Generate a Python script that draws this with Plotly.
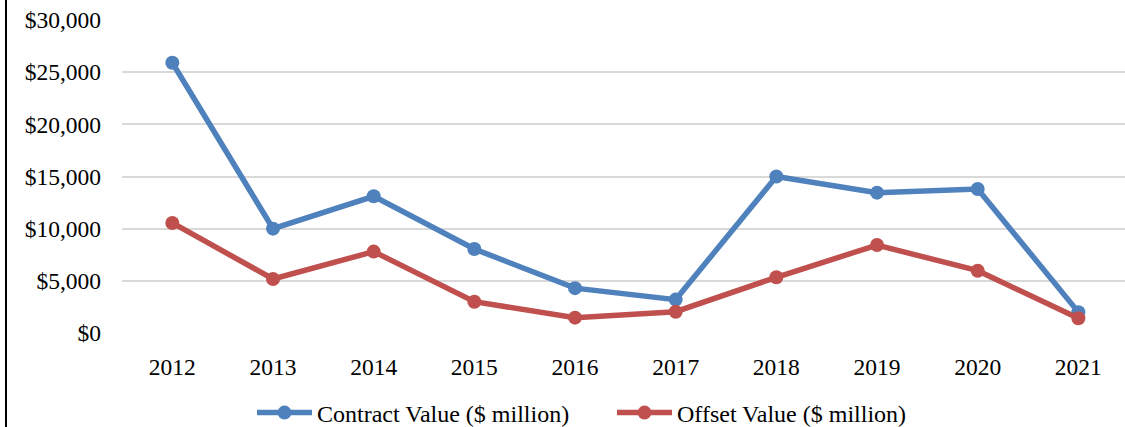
import plotly.graph_objects as go

years = ["2012", "2013", "2014", "2015", "2016", "2017", "2018", "2019", "2020", "2021"]
contract_value = [25900, 10000, 13100, 8050, 4300, 3200, 15000, 13450, 13800, 2000]
offset_value = [10550, 5180, 7800, 3000, 1470, 2040, 5340, 8430, 5970, 1410]
y_ticks = [0, 5000, 10000, 15000, 20000, 25000, 30000]
y_tick_labels = ["$0", "$5,000", "$10,000", "$15,000", "$20,000", "$25,000", "$30,000"]

BLUE = "#4F81BD"
RED = "#C0504D"
FONT = "Liberation Serif"
FS = 23.5
LFS = 24

fig = go.Figure()
fig.add_trace(go.Scatter(
    x=years, y=contract_value, mode="lines+markers",
    name="Contract Value ($ million)",
    line=dict(color=BLUE, width=5.5),
    marker=dict(color=BLUE, size=14),
))
fig.add_trace(go.Scatter(
    x=years, y=offset_value, mode="lines+markers",
    name="Offset Value ($ million)",
    line=dict(color=RED, width=5.5),
    marker=dict(color=RED, size=14),
))

L, T, R, B = 122, 20, 0, 94
W, H = 1125, 427
pw = W - L - R
ph = H - T - B

fig.update_layout(
    width=W, height=H,
    margin=dict(l=L, r=R, t=T, b=B, pad=0, autoexpand=False),
    plot_bgcolor="white", paper_bgcolor="white",
    font=dict(family=FONT, size=FS, color="black"),
    showlegend=True,
    legend=dict(
        orientation="h", x=(252 - L) / pw, xanchor="left",
        y=(ph - (413 - T)) / ph, yanchor="middle",
        font=dict(family=FONT, size=LFS, color="black"),
        itemwidth=55, entrywidth=290, entrywidthmode="pixels",
        bgcolor="rgba(0,0,0,0)", borderwidth=0, tracegroupgap=0,
    ),
    xaxis=dict(
        type="category", range=[-0.5, -0.5 + pw / 100.67],
        showgrid=False, showline=False, zeroline=False, automargin=False,
        ticks="", tickfont=dict(family=FONT, size=FS, color="black"),
        ticklabelstandoff=17,
    ),
    yaxis=dict(
        range=[0, 30000], tickvals=y_ticks, ticktext=y_tick_labels,
        showgrid=True, gridcolor="#D9D9D9", gridwidth=1.5,
        zeroline=False, showline=False, ticks="", automargin=False,
        tickfont=dict(family=FONT, size=FS, color="black"),
        ticklabelstandoff=20,
    ),
    shapes=[dict(
        type="line", xref="paper", yref="paper",
        x0=(6 - L) / pw, x1=(6 - L) / pw,
        y0=-B / ph, y1=1 + T / ph,
        line=dict(color="black", width=2),
    )],
)

fig.write_html(
    "out.html",
    config={"displayModeBar": False},
    post_script="document.body.style.margin='0';document.body.style.overflow='hidden';",
)
